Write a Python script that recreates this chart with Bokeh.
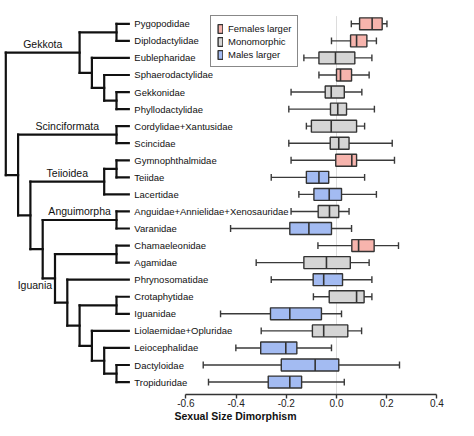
from bokeh.plotting import figure
from bokeh.models import Range1d, FixedTicker, NumeralTickFormatter, ColumnDataSource
from bokeh.core.properties import value
from bokeh.embed import file_html
from bokeh.resources import INLINE

# ---------------- data ----------------
families = ["Pygopodidae", "Diplodactylidae", "Eublepharidae", "Sphaerodactylidae",
            "Gekkonidae", "Phyllodactylidae", "Cordylidae+Xantusidae", "Scincidae",
            "Gymnophthalmidae", "Teiidae", "Lacertidae", "Anguidae+Annielidae+Xenosauridae",
            "Varanidae", "Chamaeleonidae", "Agamidae", "Phrynosomatidae", "Crotaphytidae",
            "Iguanidae", "Liolaemidae+Opluridae", "Leiocephalidae", "Dactyloidae", "Tropiduridae"]
groups = ["Females larger", "Females larger", "Monomorphic", "Females larger",
          "Monomorphic", "Monomorphic", "Monomorphic", "Monomorphic",
          "Females larger", "Males larger", "Males larger", "Monomorphic",
          "Males larger", "Females larger", "Monomorphic", "Males larger", "Monomorphic",
          "Males larger", "Monomorphic", "Males larger", "Males larger", "Males larger"]
whisker_lo = [0.059, -0.020, -0.130, -0.070, -0.181, -0.190, -0.120, -0.190, -0.181, -0.260, -0.150,
              -0.181, -0.422, -0.074, -0.320, -0.260, -0.092, -0.462, -0.300, -0.401, -0.531, -0.510]
q1 = [0.092, 0.056, -0.070, 0.000, -0.045, -0.024, -0.100, -0.025, -0.003, -0.120, -0.090,
      -0.073, -0.186, 0.061, -0.130, -0.093, -0.029, -0.263, -0.096, -0.302, -0.220, -0.272]
median = [0.142, 0.080, -0.004, 0.016, -0.021, 0.005, -0.021, 0.009, 0.061, -0.070, -0.029,
          -0.028, -0.110, 0.088, -0.040, -0.051, 0.080, -0.186, -0.051, -0.202, -0.085, -0.186]
q3 = [0.182, 0.121, 0.073, 0.060, 0.031, 0.040, 0.080, 0.050, 0.080, -0.031, 0.020,
      0.009, -0.020, 0.150, 0.055, 0.024, 0.110, -0.060, 0.045, -0.158, 0.009, -0.139]
whisker_hi = [0.201, 0.159, 0.141, 0.130, 0.101, 0.151, 0.112, 0.222, 0.231, 0.112, 0.159,
              0.050, 0.060, 0.247, 0.130, 0.141, 0.141, 0.020, 0.100, -0.020, 0.251, 0.031]
group_names = ["Females larger", "Monomorphic", "Males larger"]
group_colors = ["#f7b4ad", "#d5d5d5", "#a3bbf2"]
x_ticks = [-0.6, -0.4, -0.2, 0.0, 0.2, 0.4]


def N(depth, children, label=None):
    return {"depth": depth, "children": children, "label": label}


tree = N(0.0, [
    N(0.6, [N(0.9, ["Pygopodidae", "Diplodactylidae"]),
            N(0.7, ["Eublepharidae",
                    N(0.8, ["Sphaerodactylidae", N(0.9, ["Gekkonidae", "Phyllodactylidae"])])])],
      "Gekkota"),
    N(0.1, [N(0.9, ["Cordylidae+Xantusidae", "Scincidae"], "Scinciformata"),
            N(0.2, [N(0.8, [N(0.9, ["Gymnophthalmidae", "Teiidae"]), "Lacertidae"], "Teiioidea"),
                    N(0.3, [N(0.9, ["Anguidae+Annielidae+Xenosauridae", "Varanidae"], "Anguimorpha"),
                            N(0.4, [N(0.9, ["Chamaeleonidae", "Agamidae"]),
                                    N(0.5, ["Phrynosomatidae",
                                            N(0.6, [N(0.9, ["Crotaphytidae", "Iguanidae"]),
                                                    N(0.7, ["Liolaemidae+Opluridae",
                                                            N(0.8, ["Leiocephalidae",
                                                                    N(0.9, ["Dactyloidae", "Tropiduridae"])])])])])],
                              "Iguania")])])]),
])
tip_depth = 1.0

# ---------------- layout constants ----------------
FW, FH = 470, 394
ROW0_PX, ROW_STEP = 23.3, 17.06           # frame px of first row, px per row
ZERO_PX, PX_PER_UNIT = 336.0, 251.0       # frame px of x = 0, px per SSD unit
ROOT_PX, TIP_PX = 5.3, 128.3              # frame px of tree root / tips

x_lo = -ZERO_PX / PX_PER_UNIT
x_hi = (FW - ZERO_PX) / PX_PER_UNIT
r_top = -ROW0_PX / ROW_STEP
r_bot = (FH - ROW0_PX) / ROW_STEP
t_scale = (TIP_PX - ROOT_PX) / tip_depth
t_lo = -ROOT_PX / t_scale
t_hi = t_lo + FW / t_scale

p = figure(frame_width=FW, frame_height=FH, x_range=Range1d(x_lo, x_hi),
           y_range=Range1d(r_bot, r_top), output_backend="svg", toolbar_location=None,
           y_axis_location=None, min_border=0)
p.extra_x_ranges = {"tree": Range1d(t_lo, t_hi)}
p.outline_line_color = None
p.grid.visible = False
p.background_fill_color = "white"

rows = list(range(len(families)))

# zero reference line
p.segment(x0=[0], y0=[-0.45], x1=[0], y1=[r_bot], line_color="#dcdcdc", line_width=1)

# ---------------- tree ----------------
row_of = {f: i for i, f in enumerate(families)}
hx0, hx1, hy = [], [], []
vx, vy0, vy1 = [], [], []
cl_x, cl_y, cl_t = [], [], []


def layout(node):
    if isinstance(node, str):
        return tip_depth, row_of[node]
    ys = []
    for c in node["children"]:
        cd, cy = layout(c)
        hx0.append(node["depth"]); hx1.append(cd); hy.append(cy)
        if isinstance(c, dict) and c["label"]:
            cl_x.append((node["depth"] + cd) / 2); cl_y.append(cy); cl_t.append(c["label"])
        ys.append(cy)
    vx.append(node["depth"]); vy0.append(min(ys)); vy1.append(max(ys))
    return node["depth"], (min(ys) + max(ys)) / 2


layout(tree)
p.segment(x0=hx0, y0=hy, x1=hx1, y1=hy, x_range_name="tree", line_color="#111111",
          line_width=2.2, line_cap="square")
p.segment(x0=vx, y0=vy0, x1=vx, y1=vy1, x_range_name="tree", line_color="#111111",
          line_width=2.2, line_cap="square")

label_offsets = {"Iguania": (-14, 7)}
cl_src = ColumnDataSource(dict(
    x=cl_x, y=cl_y, text=cl_t,
    xo=[label_offsets.get(t, (0, -9))[0] for t in cl_t],
    yo=[label_offsets.get(t, (0, -9))[1] for t in cl_t]))
p.text(x="x", y="y", text="text", source=cl_src, x_range_name="tree", x_offset="xo", y_offset="yo",
       text_align="center", text_baseline="middle", text_font=value("Liberation Sans"),
       text_font_size=value("10.5px"), text_color="#111111")

p.text(x=[tip_depth] * len(families), y=rows, text=families, x_range_name="tree", x_offset=5.5,
       text_align="left", text_baseline="middle", text_font=value("Liberation Sans"),
       text_font_size=value("9.5px"), text_color="#111111")

# ---------------- box plots ----------------
wc = "#3a3a3a"
p.segment(x0=whisker_lo, y0=rows, x1=q1, y1=rows, line_color=wc, line_width=1.4)
p.segment(x0=q3, y0=rows, x1=whisker_hi, y1=rows, line_color=wc, line_width=1.4)
p.segment(x0=whisker_lo, y0=[r - 0.2 for r in rows], x1=whisker_lo, y1=[r + 0.2 for r in rows],
          line_color=wc, line_width=1.4)
p.segment(x0=whisker_hi, y0=[r - 0.2 for r in rows], x1=whisker_hi, y1=[r + 0.2 for r in rows],
          line_color=wc, line_width=1.4)

for gname, gcol in zip(group_names, group_colors):
    idx = [i for i, g in enumerate(groups) if g == gname]
    src = ColumnDataSource(dict(y=[rows[i] for i in idx], left=[q1[i] for i in idx],
                                right=[q3[i] for i in idx]))
    p.hbar(y="y", left="left", right="right", height=0.7, source=src, fill_color=gcol,
           line_color="#333333", line_width=1.4, legend_label=gname)

p.segment(x0=median, y0=[r - 0.35 for r in rows], x1=median, y1=[r + 0.35 for r in rows],
          line_color="#333333", line_width=1.6)

# ---------------- axis ----------------
ax = p.xaxis[0]
ax.bounds = (x_ticks[0], x_ticks[-1])
ax.ticker = FixedTicker(ticks=x_ticks)
ax.formatter = NumeralTickFormatter(format="0.0")
ax.minor_tick_line_color = None
ax.major_tick_in = 0
ax.major_tick_out = 4
ax.major_tick_line_width = 1.4
ax.major_tick_line_color = "#333333"
ax.axis_line_width = 1.5
ax.axis_line_color = "#333333"
ax.major_label_standoff = 0
ax.major_label_text_font = "Liberation Sans"
ax.major_label_text_font_size = "10px"
ax.major_label_text_color = "#222222"
ax.axis_label = "Sexual Size Dimorphism"
ax.axis_label_standoff = 0
ax.axis_label_text_font = "Liberation Sans"
ax.axis_label_text_font_size = "10.5px"
ax.axis_label_text_font_style = "bold"
ax.axis_label_text_color = "#111111"

# ---------------- legend ----------------
lg = p.legend[0]
lg.location = (210, 327)
lg.margin = 0
lg.padding = 6
lg.spacing = 1
lg.label_height = 12
lg.glyph_height = 11
lg.glyph_width = 6
lg.label_standoff = 5
lg.label_text_font = "Liberation Sans"
lg.label_text_font_size = "9.5px"
lg.label_text_color = "#111111"
lg.border_line_color = "#111111"
lg.border_line_width = 1
lg.background_fill_color = "white"
lg.background_fill_alpha = 1.0

open("out.html", "w").write(file_html(p, INLINE))
